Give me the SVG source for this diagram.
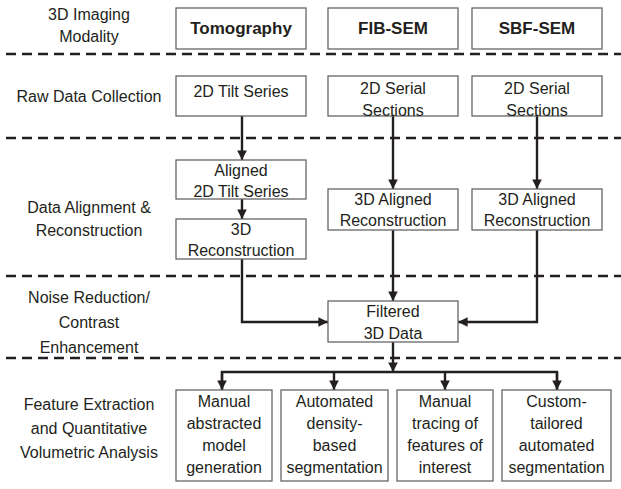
<svg xmlns="http://www.w3.org/2000/svg" width="621" height="489" viewBox="0 0 621 489">
<style>
text{font-family:"Liberation Sans",Arial,sans-serif;font-size:16px;fill:#231f20;text-anchor:middle}
.b{font-weight:bold;font-size:17px}
.box{fill:#fff;stroke:#666;stroke-width:1.3}
.dash{stroke:#231f20;stroke-width:2.6;stroke-dasharray:10 6;fill:none}
.c{stroke:#231f20;stroke-width:2.4;fill:none}
</style>
<defs>
<marker id="ah" viewBox="0 0 10 10" refX="10" refY="5" markerWidth="4" markerHeight="4" markerUnits="strokeWidth" orient="auto">
<path d="M0,0 L10,5 L0,10 Z" fill="#231f20"/>
</marker>
</defs>
<g id="separators">
<line class="dash" x1="6" y1="54" x2="621" y2="54"/>
<line class="dash" x1="6" y1="138" x2="621" y2="138"/>
<line class="dash" x1="6" y1="276" x2="621" y2="276"/>
<line class="dash" x1="6" y1="358" x2="621" y2="358"/>
</g>
<g id="stage-labels">
<text x="89" y="20">3D Imaging</text>
<text x="89" y="42">Modality</text>
<text x="89" y="102">Raw Data Collection</text>
<text x="89" y="213">Data Alignment &amp;</text>
<text x="89" y="236">Reconstruction</text>
<text x="89" y="303">Noise Reduction/</text>
<text x="89" y="328">Contrast</text>
<text x="89" y="353">Enhancement</text>
<text x="89" y="410">Feature Extraction</text>
<text x="89" y="434">and Quantitative</text>
<text x="89" y="458">Volumetric Analysis</text>
</g>
<g id="connectors">
<line class="c" x1="242" y1="116" x2="242" y2="160" marker-end="url(#ah)"/>
<line class="c" x1="242" y1="199" x2="242" y2="219" marker-end="url(#ah)"/>
<polyline class="c" points="242,259 242,322 328,322" marker-end="url(#ah)"/>
<line class="c" x1="393" y1="116" x2="393" y2="189" marker-end="url(#ah)"/>
<line class="c" x1="393" y1="230" x2="393" y2="301" marker-end="url(#ah)"/>
<line class="c" x1="537" y1="116" x2="537" y2="189" marker-end="url(#ah)"/>
<polyline class="c" points="537,230 537,322 458,322" marker-end="url(#ah)"/>
<line class="c" x1="393" y1="342" x2="393" y2="372" marker-end="url(#ah)"/>
<polyline class="c" points="222,390 222,372 557,372 557,390"/>
<line class="c" x1="222" y1="372" x2="222" y2="390" marker-end="url(#ah)"/>
<line class="c" x1="334" y1="372" x2="334" y2="390" marker-end="url(#ah)"/>
<line class="c" x1="445" y1="372" x2="445" y2="390" marker-end="url(#ah)"/>
<line class="c" x1="557" y1="372" x2="557" y2="390" marker-end="url(#ah)"/>
</g>
<g id="tomography">
<rect class="box" x="176" y="8" width="130" height="41"/>
<text class="b" x="241" y="34">Tomography</text>
</g>
<g id="fib-sem">
<rect class="box" x="328" y="8" width="130" height="41"/>
<text class="b" x="393" y="34">FIB-SEM</text>
</g>
<g id="sbf-sem">
<rect class="box" x="472" y="8" width="130" height="41"/>
<text class="b" x="537" y="34">SBF-SEM</text>
</g>
<g id="tilt-series">
<rect class="box" x="176" y="76" width="130" height="40"/>
<text x="241" y="97">2D Tilt Series</text>
</g>
<g id="fib-serial">
<rect class="box" x="328" y="76" width="130" height="40"/>
<text x="393" y="94">2D Serial</text>
<text x="393" y="116">Sections</text>
</g>
<g id="sbf-serial">
<rect class="box" x="472" y="76" width="130" height="40"/>
<text x="537" y="94">2D Serial</text>
<text x="537" y="116">Sections</text>
</g>
<g id="aligned-tilt">
<rect class="box" x="176" y="160" width="130" height="39"/>
<text x="241" y="176">Aligned</text>
<text x="241" y="197">2D Tilt Series</text>
</g>
<g id="tomo-recon">
<rect class="box" x="176" y="219" width="130" height="40"/>
<text x="241" y="235">3D</text>
<text x="241" y="256">Reconstruction</text>
</g>
<g id="fib-recon">
<rect class="box" x="328" y="189" width="130" height="41"/>
<text x="393" y="205">3D Aligned</text>
<text x="393" y="226">Reconstruction</text>
</g>
<g id="sbf-recon">
<rect class="box" x="472" y="189" width="130" height="41"/>
<text x="537" y="205">3D Aligned</text>
<text x="537" y="226">Reconstruction</text>
</g>
<g id="filtered">
<rect class="box" x="328" y="301" width="130" height="41"/>
<text x="393" y="317">Filtered</text>
<text x="393" y="339">3D Data</text>
</g>
<g id="manual-model">
<rect class="box" x="176" y="390" width="96" height="91"/>
<text x="224" y="407">Manual</text>
<text x="224" y="429">abstracted</text>
<text x="224" y="451">model</text>
<text x="224" y="473">generation</text>
</g>
<g id="auto-density">
<rect class="box" x="281" y="390" width="107" height="91"/>
<text x="334.5" y="407">Automated</text>
<text x="334.5" y="429">density-</text>
<text x="334.5" y="451">based</text>
<text x="334.5" y="473">segmentation</text>
</g>
<g id="manual-tracing">
<rect class="box" x="397" y="390" width="96" height="91"/>
<text x="445" y="407">Manual</text>
<text x="445" y="429">tracing of</text>
<text x="445" y="451">features of</text>
<text x="445" y="473">interest</text>
</g>
<g id="custom-auto">
<rect class="box" x="502" y="390" width="109" height="91"/>
<text x="556.5" y="407">Custom-</text>
<text x="556.5" y="429">tailored</text>
<text x="556.5" y="451">automated</text>
<text x="556.5" y="473">segmentation</text>
</g>
</svg>
